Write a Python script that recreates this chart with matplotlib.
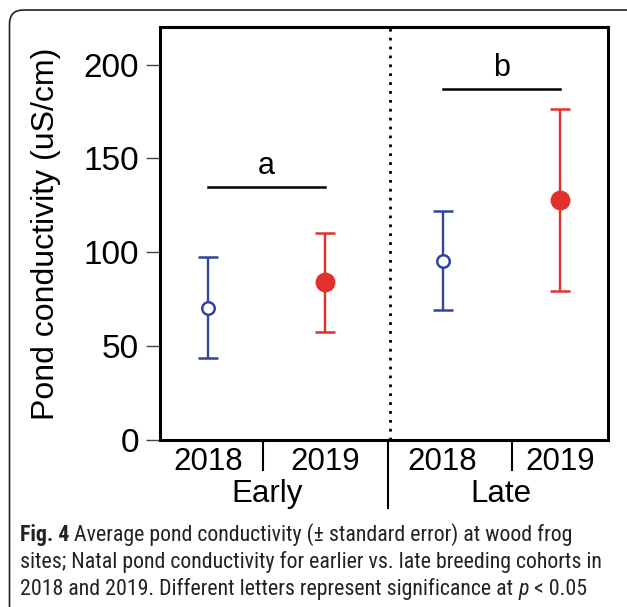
import matplotlib
matplotlib.use('Agg')
import matplotlib.pyplot as plt
from matplotlib import font_manager
from matplotlib.patches import FancyBboxPatch
from matplotlib.transforms import IdentityTransform, blended_transform_factory

# data
years = ['2018', '2019', '2018', '2019']
groups = ['Early', 'Late']
means = [70.5, 84.0, 95.5, 128.0]
se = [27.0, 26.5, 26.3, 48.5]
is_2019 = [False, True, False, True]
sig_letters = ['a', 'b']
sig_heights = [134.6, 186.8]
sig_pairs = [(1, 2), (3, 4)]

blue = '#2f45a0'
red = '#e2312a'

installed = {f.name for f in font_manager.fontManager.ttflist}
main_font = 'Liberation Sans' if 'Liberation Sans' in installed else 'DejaVu Sans'
cap_font = 'Lato'
for name in ['Liberation Sans Narrow', 'Roboto Condensed', 'Open Sans Condensed', 'Lato']:
    if name in installed:
        cap_font = name
        break
plt.rcParams['font.family'] = [main_font, 'DejaVu Sans']

fig = plt.figure(figsize=(6.27, 6.07), dpi=100)
ax = fig.add_axes([160 / 627, 1 - 440 / 607, 448 / 627, 413 / 607])

xs = list(range(1, len(means) + 1))
for x, m, s, late_year in zip(xs, means, se, is_2019):
    c = red if late_year else blue
    ax.errorbar(x, m, yerr=s, color=c, lw=1.7, capsize=7.5, capthick=1.7,
                marker='o', ms=12.5 if late_year else 9,
                mfc=c if late_year else 'white', mec=c, mew=1.8, zorder=3)

# significance bars and letters
for (x0, x1), h, lab in zip(sig_pairs, sig_heights, sig_letters):
    ax.plot([x0, x1], [h, h], color='black', lw=1.8)
    ax.text((x0 + x1) / 2, h + 11.5, lab, ha='center', va='center', fontsize=22)

ax.axvline(2.55, color='black', lw=2, ls=(0, (1, 2.2)))

ax.set_xlim(0.59, 4.41)
ax.set_ylim(0, 220)
ax.set_yticks([0, 50, 100, 150, 200])
ax.tick_params(axis='y', length=10, width=1, color='#444444', pad=5, labelsize=24)
ax.set_xticks(xs)
ax.set_xticklabels(years)
ax.tick_params(axis='x', length=0, pad=5, labelsize=22.5)
for sp in ax.spines.values():
    sp.set_linewidth(2.2)

ax.set_ylabel('Pond conductivity (uS/cm)', fontsize=23)
ax.yaxis.set_label_coords(-0.222, 0.5)

# group labels and separators below the axis
tr = blended_transform_factory(ax.transData, ax.transAxes)
for gx, g in zip([1.5, 3.5], groups):
    ax.text(gx, -0.131, g, transform=tr, ha='center', va='center', fontsize=22.5)
for sx, y0, y1 in [(1.47, -0.007, -0.073), (2.53, 0.0, -0.165), (3.59, -0.007, -0.073)]:
    ax.plot([sx, sx], [y0, y1], transform=tr, color='black', lw=1.5, clip_on=False)

# rounded frame
frame = FancyBboxPatch((9.5, -30), 640, 607 - 10 + 30, boxstyle='round,pad=0,rounding_size=14',
                       transform=IdentityTransform(), fill=False, ec='#222222', lw=1.2)
fig.add_artist(frame)

# caption
cax = fig.add_axes([0, 0, 1, 1])
cax.axis('off')
cax.set_xlim(0, 627)
cax.set_ylim(607, 0)
fam = [cap_font, 'DejaVu Sans']
probe = cax.text(20, 568, 'sites; Natal pond conductivity for earlier vs. late breeding cohorts in',
                 fontsize=14, family=fam, va='baseline', color='#222222')
fig.canvas.draw()
w = probe.get_window_extent().width
fs = 14 * 585 / w
probe.set_fontsize(fs)

t1 = cax.text(20, 541, 'Fig. 4', fontsize=fs, family=fam, weight='bold', va='baseline', color='#222222')
cax.annotate(' Average pond conductivity (\u00b1 standard error) at wood frog', xy=(1, 0), xycoords=t1,
             va='bottom', ha='left', fontsize=fs, family=fam, color='#222222')
t3 = cax.text(20, 595, '2018 and 2019. Different letters represent significance at ', fontsize=fs,
              family=fam, va='baseline', color='#222222')
t4 = cax.annotate('p', xy=(1, 0), xycoords=t3, va='bottom', ha='left', fontsize=fs, family=fam,
                  style='italic', color='#222222')
cax.annotate(' < 0.05', xy=(1, 0), xycoords=t4, va='bottom', ha='left', fontsize=fs, family=fam,
             color='#222222')

fig.savefig('out.png', dpi=100)
